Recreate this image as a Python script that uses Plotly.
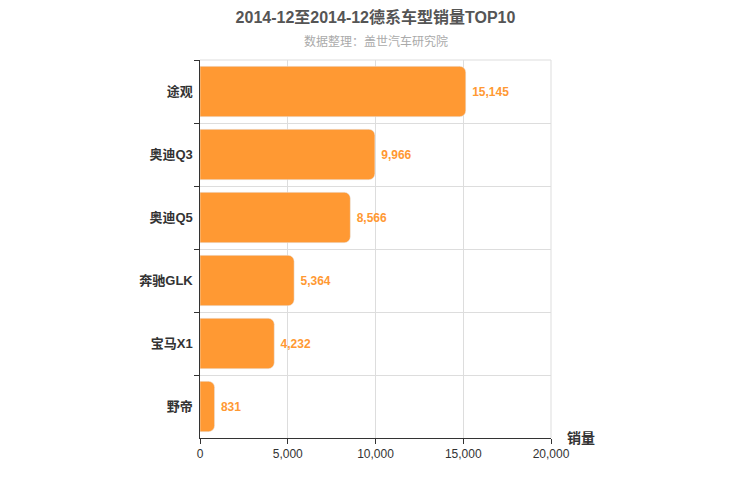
import plotly.graph_objects as go

models = ["途观", "奥迪Q3", "奥迪Q5", "奔驰GLK", "宝马X1", "野帝"]
sales = [15145, 9966, 8566, 5364, 4232, 831]

fig = go.Figure(
    go.Bar(
        x=sales,
        y=models,
        orientation="h",
        marker=dict(color="#ff9933", cornerradius=6),
        text=[f"<b> {v:,}</b>" for v in sales],
        textposition="outside",
        textfont=dict(color="#ff9933", size=12),
        cliponaxis=False,
    )
)

fig.update_layout(
    width=750,
    height=500,
    plot_bgcolor="white",
    paper_bgcolor="white",
    font=dict(family="Liberation Sans, Noto Sans CJK SC, sans-serif", color="#333"),
    margin=dict(l=192, r=207, t=52, b=70),
    bargap=0.2,
    showlegend=False,
    title=dict(
        text="<b>2014-12至2014-12德系车型销量TOP10</b>",
        x=0.5, xref="paper", y=0.992, xanchor="center",
        font=dict(size=16, color="#555"),
    ),
    annotations=[
        dict(text="数据整理：盖世汽车研究院", xref="paper", yref="paper",
             x=0.5, y=1.075, showarrow=False, font=dict(size=12, color="#aaa")),
        dict(text="<b>销量</b>", xref="paper", yref="paper", x=1.04, y=0.0,
             xanchor="left", yanchor="middle", showarrow=False,
             font=dict(size=14, color="#333")),
    ],
)
fig.update_xaxes(
    range=[0, 20000], dtick=5000, tickformat=",", showgrid=True,
    gridcolor="#ddd", ticks="outside", tickcolor="#333", ticklen=5,
    showline=True, linecolor="#333", zeroline=False,
    tickfont=dict(size=12, color="#333"),
)
fig.update_yaxes(
    autorange="reversed", tickson="boundaries", showgrid=True, gridcolor="#ddd",
    ticks="outside", tickcolor="#333", ticklen=5, showline=True, linecolor="#333",
    tickfont=dict(size=13, color="#333"), tickprefix="<b>", ticksuffix="</b> ",
)
fig.add_shape(type="line", xref="paper", yref="paper", x0=1, x1=1, y0=0, y1=1,
              line=dict(color="#ddd", width=1))
fig.add_shape(type="line", xref="paper", yref="paper", x0=0, x1=1, y0=1, y1=1,
              line=dict(color="#ddd", width=1))

fig.write_html("out.html")
